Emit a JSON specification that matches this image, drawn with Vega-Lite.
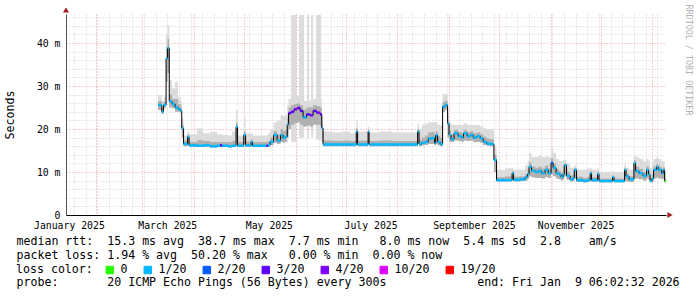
{
  "$schema": "https://vega.github.io/schema/vega-lite/v6.json",
  "width": 600,
  "height": 201,
  "autosize": "none",
  "padding": {"left": 66, "top": 14, "right": 31, "bottom": 82},
  "background": "#ffffff",
  "config": {"view": {"stroke": null}, "font": "DejaVu Sans Mono"},
  "datasets": {
    "ping": [
      {"d":"2025-03-10T12:00Z","e":"2025-03-12T17:00Z","m":25.6,"lo":24.4,"hi":27.9,"h2":26.5,"l":"1/20"},
      {"d":"2025-03-12T17:00Z","e":"2025-03-13T19:00Z","m":24.0,"lo":23.5,"hi":26.5,"h2":25.0,"l":"1/20"},
      {"d":"2025-03-13T19:00Z","e":"2025-03-15T07:00Z","m":25.6,"lo":25.0,"hi":27.5,"h2":26.3,"l":"1/20"},
      {"d":"2025-03-15T07:00Z","e":"2025-03-16T05:00Z","m":36.4,"lo":31,"hi":42,"h2":39,"l":"1/20"},
      {"d":"2025-03-16T05:00Z","e":"2025-03-17T05:00Z","m":38.8,"lo":33,"hi":44.2,"h2":41,"l":"1/20"},
      {"d":"2025-03-17T05:00Z","e":"2025-03-18T22:00Z","m":26.4,"lo":25,"hi":31.4,"h2":28,"l":"1/20"},
      {"d":"2025-03-18T22:00Z","e":"2025-03-20T17:00Z","m":25.8,"lo":24.8,"hi":29.5,"h2":27,"l":"1/20"},
      {"d":"2025-03-20T17:00Z","e":"2025-03-22T12:00Z","m":25.0,"lo":24.0,"hi":31.0,"h2":27,"l":"1/20"},
      {"d":"2025-03-22T12:00Z","e":"2025-03-24T00:00Z","m":24.6,"lo":24.0,"hi":27.5,"h2":25.8,"l":"1/20"},
      {"d":"2025-03-24T00:00Z","e":"2025-03-24T17:00Z","m":24.2,"lo":23.6,"hi":26.5,"h2":25.2,"l":"1/20"},
      {"d":"2025-03-24T17:00Z","e":"2025-03-25T19:00Z","m":20.2,"lo":18,"hi":22.5,"h2":21,"l":"1/20"},
      {"d":"2025-03-25T19:00Z","e":"2025-03-28T05:00Z","m":16.5,"lo":16.0,"hi":18.5,"h2":17.3,"l":"1/20"},
      {"d":"2025-03-28T05:00Z","e":"2025-03-29T02:00Z","m":18.2,"lo":16.2,"hi":19.5,"h2":18.8,"l":"1/20"},
      {"d":"2025-03-29T02:00Z","e":"2025-04-02T22:00Z","m":16.2,"lo":15.8,"hi":18.8,"h2":17.0,"l":"1/20"},
      {"d":"2025-04-02T22:00Z","e":"2025-04-06T12:00Z","m":16.1,"lo":15.8,"hi":20.2,"h2":17.4,"l":"1/20"},
      {"d":"2025-04-06T12:00Z","e":"2025-04-10T17:00Z","m":16.2,"lo":15.8,"hi":19.0,"h2":17.2,"l":"1/20"},
      {"d":"2025-04-10T17:00Z","e":"2025-04-14T22:00Z","m":16.0,"lo":15.7,"hi":19.3,"h2":17.0,"l":"1/20"},
      {"d":"2025-04-14T22:00Z","e":"2025-04-16T17:00Z","m":16.1,"lo":15.8,"hi":18.8,"h2":17.0,"l":"1/20"},
      {"d":"2025-04-16T17:00Z","e":"2025-04-17T22:00Z","m":16.2,"lo":15.8,"hi":18.8,"h2":17.0,"l":"3/20"},
      {"d":"2025-04-17T22:00Z","e":"2025-04-21T12:00Z","m":16.1,"lo":15.8,"hi":18.6,"h2":17.0,"l":"1/20"},
      {"d":"2025-04-21T12:00Z","e":"2025-04-23T22:00Z","m":16.0,"lo":15.7,"hi":18.5,"h2":16.9,"l":"1/20"},
      {"d":"2025-04-23T22:00Z","e":"2025-04-26T07:00Z","m":16.1,"lo":15.8,"hi":19.4,"h2":17.2,"l":"1/20"},
      {"d":"2025-04-26T07:00Z","e":"2025-04-27T05:00Z","m":20.5,"lo":17,"hi":24.4,"h2":21.5,"l":"1/20"},
      {"d":"2025-04-27T05:00Z","e":"2025-04-30T22:00Z","m":16.1,"lo":15.8,"hi":18.5,"h2":17.0,"l":"1/20"},
      {"d":"2025-04-30T22:00Z","e":"2025-05-02T00:00Z","m":18.6,"lo":16.5,"hi":22.5,"h2":19.5,"l":"1/20"},
      {"d":"2025-05-02T00:00Z","e":"2025-05-05T07:00Z","m":16.2,"lo":15.8,"hi":19.0,"h2":17.1,"l":"1/20"},
      {"d":"2025-05-05T07:00Z","e":"2025-05-06T05:00Z","m":17.0,"lo":16.0,"hi":19.0,"h2":17.6,"l":"1/20"},
      {"d":"2025-05-06T05:00Z","e":"2025-05-10T17:00Z","m":16.1,"lo":15.8,"hi":18.5,"h2":17.0,"l":"1/20"},
      {"d":"2025-05-10T17:00Z","e":"2025-05-14T14:00Z","m":16.1,"lo":15.8,"hi":18.5,"h2":17.0,"l":"1/20"},
      {"d":"2025-05-14T14:00Z","e":"2025-05-15T12:00Z","m":16.1,"lo":15.8,"hi":18.5,"h2":17.0,"l":"3/20"},
      {"d":"2025-05-15T12:00Z","e":"2025-05-16T17:00Z","m":16.3,"lo":15.9,"hi":19.0,"h2":17.2,"l":"1/20"},
      {"d":"2025-05-16T17:00Z","e":"2025-05-18T19:00Z","m":17.0,"lo":16.2,"hi":20.0,"h2":18.0,"l":"1/20"},
      {"d":"2025-05-18T19:00Z","e":"2025-05-20T22:00Z","m":18.6,"lo":16.8,"hi":21.5,"h2":19.5,"l":"1/20"},
      {"d":"2025-05-20T22:00Z","e":"2025-05-23T00:00Z","m":17.3,"lo":16.5,"hi":22.0,"h2":18.8,"l":"1/20"},
      {"d":"2025-05-23T00:00Z","e":"2025-05-24T12:00Z","m":18.6,"lo":17.0,"hi":23.3,"h2":20.0,"l":"1/20"},
      {"d":"2025-05-24T12:00Z","e":"2025-05-25T17:00Z","m":17.9,"lo":16.8,"hi":23.0,"h2":19.5,"l":"1/20"},
      {"d":"2025-05-25T17:00Z","e":"2025-05-27T00:00Z","m":18.2,"lo":17.0,"hi":23.3,"h2":19.8,"l":"1/20"},
      {"d":"2025-05-27T00:00Z","e":"2025-05-27T19:00Z","m":21.0,"lo":18.0,"hi":25.5,"h2":22.5,"l":"1/20"},
      {"d":"2025-05-27T19:00Z","e":"2025-05-29T07:00Z","m":23.7,"lo":20.0,"hi":27.0,"h2":25.0,"l":"3/20"},
      {"d":"2025-05-29T07:00Z","e":"2025-05-31T02:00Z","m":24.0,"lo":21.0,"hi":27.5,"h2":25.5,"l":"3/20"},
      {"d":"2025-05-31T02:00Z","e":"2025-06-01T22:00Z","m":24.6,"lo":21.3,"hi":27.5,"h2":25.8,"l":"4/20"},
      {"d":"2025-06-01T22:00Z","e":"2025-06-03T17:00Z","m":24.9,"lo":21.5,"hi":27.7,"h2":26.0,"l":"3/20"},
      {"d":"2025-06-03T17:00Z","e":"2025-06-05T12:00Z","m":24.2,"lo":21.0,"hi":27.5,"h2":25.5,"l":"3/20"},
      {"d":"2025-06-05T12:00Z","e":"2025-06-07T14:00Z","m":22.7,"lo":20.5,"hi":26.5,"h2":24.5,"l":"1/20"},
      {"d":"2025-06-07T14:00Z","e":"2025-06-09T17:00Z","m":23.4,"lo":20.8,"hi":26.5,"h2":25.0,"l":"3/20"},
      {"d":"2025-06-09T17:00Z","e":"2025-06-11T12:00Z","m":23.2,"lo":20.5,"hi":26.8,"h2":25.0,"l":"4/20"},
      {"d":"2025-06-11T12:00Z","e":"2025-06-13T14:00Z","m":24.2,"lo":21.0,"hi":27.0,"h2":25.5,"l":"3/20"},
      {"d":"2025-06-13T14:00Z","e":"2025-06-15T17:00Z","m":23.8,"lo":21.0,"hi":27.2,"h2":25.3,"l":"4/20"},
      {"d":"2025-06-15T17:00Z","e":"2025-06-16T17:00Z","m":23.4,"lo":20.8,"hi":27.0,"h2":25.0,"l":"3/20"},
      {"d":"2025-06-16T17:00Z","e":"2025-06-17T12:00Z","m":20.2,"lo":17.0,"hi":23.0,"h2":21.0,"l":"1/20"},
      {"d":"2025-06-17T12:00Z","e":"2025-06-23T12:00Z","m":16.4,"lo":16.0,"hi":19.4,"h2":17.3,"l":"1/20"},
      {"d":"2025-06-23T12:00Z","e":"2025-06-29T12:00Z","m":16.4,"lo":16.0,"hi":19.2,"h2":17.2,"l":"1/20"},
      {"d":"2025-06-29T12:00Z","e":"2025-07-03T17:00Z","m":16.4,"lo":16.0,"hi":19.4,"h2":17.3,"l":"1/20"},
      {"d":"2025-07-03T17:00Z","e":"2025-07-07T10:00Z","m":16.4,"lo":16.0,"hi":19.0,"h2":17.2,"l":"1/20"},
      {"d":"2025-07-07T10:00Z","e":"2025-07-08T05:00Z","m":19.4,"lo":17.0,"hi":22.0,"h2":20.3,"l":"1/20"},
      {"d":"2025-07-08T05:00Z","e":"2025-07-14T12:00Z","m":16.4,"lo":16.0,"hi":19.4,"h2":17.3,"l":"1/20"},
      {"d":"2025-07-14T12:00Z","e":"2025-07-15T02:00Z","m":19.4,"lo":16.5,"hi":20.5,"h2":19.8,"l":"1/20"},
      {"d":"2025-07-15T02:00Z","e":"2025-07-21T17:00Z","m":16.4,"lo":16.0,"hi":19.2,"h2":17.2,"l":"1/20"},
      {"d":"2025-07-21T17:00Z","e":"2025-07-28T22:00Z","m":16.4,"lo":16.0,"hi":19.4,"h2":17.3,"l":"1/20"},
      {"d":"2025-07-28T22:00Z","e":"2025-08-05T17:00Z","m":16.4,"lo":16.0,"hi":19.2,"h2":17.2,"l":"1/20"},
      {"d":"2025-08-05T17:00Z","e":"2025-08-13T05:00Z","m":16.4,"lo":16.0,"hi":19.2,"h2":17.2,"l":"1/20"},
      {"d":"2025-08-13T05:00Z","e":"2025-08-14T02:00Z","m":19.4,"lo":16.5,"hi":21.3,"h2":20.0,"l":"1/20"},
      {"d":"2025-08-14T02:00Z","e":"2025-08-15T17:00Z","m":16.5,"lo":16.0,"hi":20.0,"h2":17.5,"l":"1/20"},
      {"d":"2025-08-15T17:00Z","e":"2025-08-17T17:00Z","m":16.8,"lo":16.2,"hi":21.0,"h2":18.0,"l":"1/20"},
      {"d":"2025-08-17T17:00Z","e":"2025-08-19T14:00Z","m":17.0,"lo":16.3,"hi":21.3,"h2":18.5,"l":"1/20"},
      {"d":"2025-08-19T14:00Z","e":"2025-08-21T17:00Z","m":17.8,"lo":16.5,"hi":21.6,"h2":19.2,"l":"1/20"},
      {"d":"2025-08-21T17:00Z","e":"2025-08-23T10:00Z","m":17.9,"lo":16.5,"hi":21.6,"h2":19.3,"l":"1/20"},
      {"d":"2025-08-23T10:00Z","e":"2025-08-24T02:00Z","m":16.7,"lo":16.2,"hi":21.6,"h2":18.5,"l":"1/20"},
      {"d":"2025-08-24T02:00Z","e":"2025-08-25T05:00Z","m":18.6,"lo":16.5,"hi":21.6,"h2":19.5,"l":"1/20"},
      {"d":"2025-08-25T05:00Z","e":"2025-08-26T17:00Z","m":17.0,"lo":16.2,"hi":21.0,"h2":18.3,"l":"1/20"},
      {"d":"2025-08-26T17:00Z","e":"2025-08-28T05:00Z","m":16.5,"lo":16.0,"hi":20.9,"h2":18.0,"l":"1/20"},
      {"d":"2025-08-28T05:00Z","e":"2025-08-29T17:00Z","m":25.2,"lo":24.0,"hi":28.1,"h2":26.3,"l":"1/20"},
      {"d":"2025-08-29T17:00Z","e":"2025-08-31T05:00Z","m":25.6,"lo":24.5,"hi":28.1,"h2":26.6,"l":"1/20"},
      {"d":"2025-08-31T05:00Z","e":"2025-09-01T02:00Z","m":21.3,"lo":18.0,"hi":24.0,"h2":22.0,"l":"1/20"},
      {"d":"2025-09-01T02:00Z","e":"2025-09-02T07:00Z","m":18.6,"lo":17.0,"hi":21.5,"h2":19.6,"l":"1/20"},
      {"d":"2025-09-02T07:00Z","e":"2025-09-04T02:00Z","m":17.6,"lo":17.0,"hi":21.0,"h2":18.8,"l":"1/20"},
      {"d":"2025-09-04T02:00Z","e":"2025-09-06T12:00Z","m":19.0,"lo":17.3,"hi":21.0,"h2":19.8,"l":"1/20"},
      {"d":"2025-09-06T12:00Z","e":"2025-09-08T14:00Z","m":18.3,"lo":17.2,"hi":21.0,"h2":19.3,"l":"1/20"},
      {"d":"2025-09-08T14:00Z","e":"2025-09-09T19:00Z","m":18.0,"lo":17.0,"hi":20.9,"h2":19.0,"l":"1/20"},
      {"d":"2025-09-09T19:00Z","e":"2025-09-11T22:00Z","m":19.0,"lo":17.3,"hi":21.3,"h2":19.8,"l":"1/20"},
      {"d":"2025-09-11T22:00Z","e":"2025-09-13T17:00Z","m":18.3,"lo":17.2,"hi":21.0,"h2":19.3,"l":"1/20"},
      {"d":"2025-09-13T17:00Z","e":"2025-09-15T14:00Z","m":18.6,"lo":17.3,"hi":21.0,"h2":19.5,"l":"1/20"},
      {"d":"2025-09-15T14:00Z","e":"2025-09-17T17:00Z","m":18.0,"lo":17.0,"hi":20.9,"h2":19.0,"l":"1/20"},
      {"d":"2025-09-17T17:00Z","e":"2025-09-19T17:00Z","m":18.3,"lo":17.0,"hi":21.0,"h2":19.2,"l":"1/20"},
      {"d":"2025-09-19T17:00Z","e":"2025-09-21T14:00Z","m":17.8,"lo":16.8,"hi":20.5,"h2":18.8,"l":"1/20"},
      {"d":"2025-09-21T14:00Z","e":"2025-09-23T17:00Z","m":17.0,"lo":16.3,"hi":20.2,"h2":18.2,"l":"1/20"},
      {"d":"2025-09-23T17:00Z","e":"2025-09-25T17:00Z","m":16.6,"lo":16.1,"hi":20.0,"h2":17.8,"l":"1/20"},
      {"d":"2025-09-25T17:00Z","e":"2025-09-28T00:00Z","m":16.5,"lo":16.0,"hi":20.0,"h2":17.6,"l":"1/20"},
      {"d":"2025-09-28T00:00Z","e":"2025-09-29T14:00Z","m":12.8,"lo":10.0,"hi":16.0,"h2":14.0,"l":"1/20"},
      {"d":"2025-09-29T14:00Z","e":"2025-10-04T17:00Z","m":8.1,"lo":7.8,"hi":10.5,"h2":8.8,"l":"1/20"},
      {"d":"2025-10-04T17:00Z","e":"2025-10-08T22:00Z","m":8.1,"lo":7.8,"hi":10.9,"h2":9.0,"l":"1/20"},
      {"d":"2025-10-08T22:00Z","e":"2025-10-09T19:00Z","m":9.7,"lo":8.0,"hi":11.0,"h2":10.2,"l":"1/20"},
      {"d":"2025-10-09T19:00Z","e":"2025-10-13T17:00Z","m":8.2,"lo":7.8,"hi":10.5,"h2":8.9,"l":"1/20"},
      {"d":"2025-10-13T17:00Z","e":"2025-10-16T17:00Z","m":8.3,"lo":7.9,"hi":10.5,"h2":9.0,"l":"1/20"},
      {"d":"2025-10-16T17:00Z","e":"2025-10-18T05:00Z","m":8.8,"lo":8.0,"hi":11.5,"h2":9.6,"l":"1/20"},
      {"d":"2025-10-18T05:00Z","e":"2025-10-19T02:00Z","m":9.5,"lo":8.5,"hi":12.5,"h2":10.5,"l":"1/20"},
      {"d":"2025-10-19T02:00Z","e":"2025-10-20T14:00Z","m":11.2,"lo":9.0,"hi":14.4,"h2":12.2,"l":"1/20"},
      {"d":"2025-10-20T14:00Z","e":"2025-10-22T17:00Z","m":10.3,"lo":8.8,"hi":13.5,"h2":11.3,"l":"1/20"},
      {"d":"2025-10-22T17:00Z","e":"2025-10-24T14:00Z","m":10.0,"lo":8.6,"hi":13.5,"h2":11.0,"l":"1/20"},
      {"d":"2025-10-24T14:00Z","e":"2025-10-26T17:00Z","m":10.2,"lo":8.6,"hi":13.8,"h2":11.2,"l":"1/20"},
      {"d":"2025-10-26T17:00Z","e":"2025-10-28T17:00Z","m":9.7,"lo":8.5,"hi":13.5,"h2":10.8,"l":"1/20"},
      {"d":"2025-10-28T17:00Z","e":"2025-10-30T14:00Z","m":10.5,"lo":8.8,"hi":13.6,"h2":11.5,"l":"1/20"},
      {"d":"2025-10-30T14:00Z","e":"2025-11-01T07:00Z","m":9.7,"lo":8.6,"hi":13.5,"h2":10.8,"l":"1/20"},
      {"d":"2025-11-01T07:00Z","e":"2025-11-02T12:00Z","m":12.1,"lo":9.5,"hi":15.6,"h2":13.2,"l":"2/20"},
      {"d":"2025-11-02T12:00Z","e":"2025-11-04T07:00Z","m":11.0,"lo":9.0,"hi":14.5,"h2":12.0,"l":"1/20"},
      {"d":"2025-11-04T07:00Z","e":"2025-11-06T02:00Z","m":9.7,"lo":8.5,"hi":13.0,"h2":10.7,"l":"1/20"},
      {"d":"2025-11-06T02:00Z","e":"2025-11-07T07:00Z","m":9.4,"lo":8.3,"hi":12.5,"h2":10.3,"l":"1/20"},
      {"d":"2025-11-07T07:00Z","e":"2025-11-08T12:00Z","m":8.8,"lo":8.0,"hi":12.5,"h2":9.8,"l":"1/20"},
      {"d":"2025-11-08T12:00Z","e":"2025-11-09T05:00Z","m":9.4,"lo":8.3,"hi":12.8,"h2":10.4,"l":"1/20"},
      {"d":"2025-11-09T05:00Z","e":"2025-11-10T14:00Z","m":11.6,"lo":9.0,"hi":12.8,"h2":12.0,"l":"1/20"},
      {"d":"2025-11-10T14:00Z","e":"2025-11-12T17:00Z","m":9.1,"lo":8.2,"hi":12.0,"h2":10.0,"l":"1/20"},
      {"d":"2025-11-12T17:00Z","e":"2025-11-14T12:00Z","m":8.3,"lo":7.8,"hi":11.0,"h2":9.2,"l":"1/20"},
      {"d":"2025-11-14T12:00Z","e":"2025-11-15T05:00Z","m":8.6,"lo":7.9,"hi":11.0,"h2":9.4,"l":"1/20"},
      {"d":"2025-11-15T05:00Z","e":"2025-11-16T14:00Z","m":10.5,"lo":8.5,"hi":11.5,"h2":10.8,"l":"1/20"},
      {"d":"2025-11-16T14:00Z","e":"2025-11-20T12:00Z","m":8.1,"lo":7.7,"hi":10.5,"h2":8.9,"l":"1/20"},
      {"d":"2025-11-20T12:00Z","e":"2025-11-22T22:00Z","m":7.9,"lo":7.6,"hi":10.5,"h2":8.6,"l":"1/20"},
      {"d":"2025-11-22T22:00Z","e":"2025-11-24T19:00Z","m":8.1,"lo":7.7,"hi":10.8,"h2":8.9,"l":"1/20"},
      {"d":"2025-11-24T19:00Z","e":"2025-11-25T14:00Z","m":9.7,"lo":8.0,"hi":11.0,"h2":10.2,"l":"1/20"},
      {"d":"2025-11-25T14:00Z","e":"2025-11-29T05:00Z","m":8.1,"lo":7.7,"hi":10.5,"h2":8.8,"l":"1/20"},
      {"d":"2025-11-29T05:00Z","e":"2025-11-30T02:00Z","m":9.5,"lo":8.0,"hi":10.8,"h2":10.0,"l":"1/20"},
      {"d":"2025-11-30T02:00Z","e":"2025-12-06T17:00Z","m":7.9,"lo":7.6,"hi":10.0,"h2":8.5,"l":"1/20"},
      {"d":"2025-12-06T17:00Z","e":"2025-12-08T05:00Z","m":7.9,"lo":7.6,"hi":9.8,"h2":8.5,"l":"1/20"},
      {"d":"2025-12-08T05:00Z","e":"2025-12-09T02:00Z","m":8.8,"lo":7.8,"hi":10.2,"h2":9.2,"l":"1/20"},
      {"d":"2025-12-09T02:00Z","e":"2025-12-15T10:00Z","m":7.9,"lo":7.6,"hi":10.0,"h2":8.5,"l":"1/20"},
      {"d":"2025-12-15T10:00Z","e":"2025-12-16T07:00Z","m":10.5,"lo":8.0,"hi":12.0,"h2":11.0,"l":"1/20"},
      {"d":"2025-12-16T07:00Z","e":"2025-12-18T02:00Z","m":9.0,"lo":7.8,"hi":11.0,"h2":9.6,"l":"1/20"},
      {"d":"2025-12-18T02:00Z","e":"2025-12-21T00:00Z","m":8.3,"lo":7.7,"hi":10.5,"h2":9.0,"l":"1/20"},
      {"d":"2025-12-21T00:00Z","e":"2025-12-22T00:00Z","m":12.1,"lo":8.5,"hi":14.0,"h2":12.8,"l":"1/20"},
      {"d":"2025-12-22T00:00Z","e":"2025-12-24T02:00Z","m":10.2,"lo":8.5,"hi":13.5,"h2":11.2,"l":"1/20"},
      {"d":"2025-12-24T02:00Z","e":"2025-12-26T12:00Z","m":9.7,"lo":8.3,"hi":13.0,"h2":10.7,"l":"1/20"},
      {"d":"2025-12-26T12:00Z","e":"2025-12-28T14:00Z","m":9.1,"lo":8.0,"hi":12.5,"h2":10.0,"l":"1/20"},
      {"d":"2025-12-28T14:00Z","e":"2025-12-29T19:00Z","m":10.5,"lo":8.5,"hi":13.0,"h2":11.3,"l":"1/20"},
      {"d":"2025-12-29T19:00Z","e":"2025-12-30T17:00Z","m":9.4,"lo":8.2,"hi":12.5,"h2":10.3,"l":"1/20"},
      {"d":"2025-12-30T17:00Z","e":"2025-12-31T22:00Z","m":7.9,"lo":7.6,"hi":11.0,"h2":8.6,"l":"1/20"},
      {"d":"2025-12-31T22:00Z","e":"2026-01-01T19:00Z","m":8.5,"lo":7.8,"hi":12.0,"h2":9.5,"l":"1/20"},
      {"d":"2026-01-01T19:00Z","e":"2026-01-03T14:00Z","m":10.5,"lo":8.5,"hi":13.0,"h2":11.3,"l":"1/20"},
      {"d":"2026-01-03T14:00Z","e":"2026-01-04T14:00Z","m":11.2,"lo":8.8,"hi":13.5,"h2":12.0,"l":"1/20"},
      {"d":"2026-01-04T14:00Z","e":"2026-01-06T14:00Z","m":10.5,"lo":8.5,"hi":13.0,"h2":11.3,"l":"1/20"},
      {"d":"2026-01-06T14:00Z","e":"2026-01-07T14:00Z","m":9.7,"lo":8.3,"hi":12.5,"h2":10.7,"l":"1/20"},
      {"d":"2026-01-07T14:00Z","e":"2026-01-08T10:00Z","m":10.5,"lo":8.5,"hi":12.5,"h2":11.2,"l":"1/20"},
      {"d":"2026-01-08T10:00Z","e":"2026-01-09T06:00Z","m":7.9,"lo":7.6,"hi":10.0,"h2":8.5,"l":"0"},
      {"d":"2026-01-09T06:00Z","e":"2026-01-09T06:00Z","m":8.0,"lo":7.6,"hi":10.0,"h2":8.5,"l":"0"}
    ],
    "cols": [
      {"s":"2025-05-29T07:00Z","e":"2025-06-01T07:00Z","lo":17.0,"hi":46.5},
      {"s":"2025-06-03T02:00Z","e":"2025-06-06T02:00Z","lo":18.0,"hi":46.5},
      {"s":"2025-06-07T22:00Z","e":"2025-06-09T02:00Z","lo":18.0,"hi":46.5},
      {"s":"2025-06-10T07:00Z","e":"2025-06-11T12:00Z","lo":18.0,"hi":46.5},
      {"s":"2025-06-13T07:00Z","e":"2025-06-16T07:00Z","lo":17.5,"hi":46.5}
    ]
  },
  "layer": [
    {
      "data": {"name": "cols"},
      "mark": {"type": "rect", "color": "#dcdcdc"},
      "encoding": {
        "x": {"field": "s", "type": "temporal",
          "scale": {"type": "utc", "domain": [{"year": 2025, "month": 1, "date": 14, "hours": 6, "minutes": 2, "seconds": 32, "utc": true}, {"year": 2026, "month": 1, "date": 9, "hours": 6, "minutes": 2, "seconds": 32, "utc": true}]},
          "axis": {"orient": "bottom", "grid": true, "gridColor": "#d0d0d0", "gridDash": [1, 2], "tickCount": {"interval": "week", "step": 1}, "labels": false, "ticks": false, "domain": false,
            "title": "probe:\u00a0\u00a0\u00a0\u00a0\u00a0\u00a0\u00a020 ICMP Echo Pings (56 Bytes) every 300s\u00a0\u00a0\u00a0\u00a0\u00a0\u00a0\u00a0\u00a0\u00a0\u00a0\u00a0\u00a0\u00a0end: Fri Jan\u00a0\u00a09 06:02:32 2026",
            "titleFont": "DejaVu Sans Mono", "titleFontSize": 11.6, "titleFontWeight": "normal", "titleColor": "#000000",
            "titleAlign": "left", "titleAnchor": "start", "titleX": -50, "titleY": 70.7, "titleBaseline": "alphabetic", "titleAngle": 0}},
        "x2": {"field": "e"},
        "y": {"field": "lo", "type": "quantitative",
          "scale": {"domain": [0, 46.75], "nice": false, "zero": false},
          "axis": {"orient": "left", "values": [0,2,4,6,8,10,12,14,16,18,20,22,24,26,28,30,32,34,36,38,40,42,44,46],
            "grid": true,
            "gridColor": {"condition": {"test": "datum.value % 10 === 0", "value": "#eaa0a0"}, "value": "#d0d0d0"},
            "gridDash": [1, 2],
            "labelExpr": "datum.value === 0 ? '0' : (datum.value % 10 === 0 ? datum.value + ' m' : '')",
            "labelFont": "DejaVu Sans Mono", "labelFontSize": 9.8, "labelColor": "#000000", "labelPadding": 6,
            "labelOverlap": false, "labelFlush": false, "ticks": false, "domainColor": "#555555",
            "title": "Seconds", "titleFont": "DejaVu Sans Mono", "titleFontSize": 11.6, "titleFontWeight": "normal",
            "titleColor": "#000000", "titleX": -56, "titleY": 100.5, "titleAngle": -90, "titleAlign": "center", "titleBaseline": "middle"}},
        "y2": {"field": "hi"}
      }
    },
    {
      "data": {"name": "ping"},
      "mark": {"type": "area", "interpolate": "step-after", "color": "#dcdcdc"},
      "encoding": {
        "x": {"field": "d", "type": "temporal", "scale": {"type": "utc"},
          "axis": {"orient": "bottom", "grid": true, "gridColor": "#eaa0a0", "gridDash": [1, 2], "tickCount": {"interval": "month", "step": 1}, "labels": false, "ticks": false, "domain": false, "title": null}},
        "y": {"field": "lo", "type": "quantitative",
          "axis": {"orient": "right", "labels": false, "ticks": false, "domain": false, "grid": false,
            "title": "RRDTOOL / TOBI OETIKER", "titleAngle": 90, "titleX": 22, "titleY": -10, "titleAlign": "left", "titleBaseline": "middle",
            "titleFont": "DejaVu Sans Mono", "titleFontSize": 8.4, "titleFontWeight": "normal", "titleColor": "#b0b0b0"}},
        "y2": {"field": "hi"}
      }
    },
    {
      "data": {"name": "ping"},
      "mark": {"type": "area", "interpolate": "step-after", "color": "#b0b0b0"},
      "encoding": {
        "x": {"field": "d", "type": "temporal", "scale": {"type": "utc"},
          "axis": {"orient": "bottom", "grid": false, "ticks": false, "domain": true, "domainColor": "#000000",
            "values": [{"year": 2025, "month": 1, "date": 16, "utc": true}, {"year": 2025, "month": 3, "date": 16, "utc": true}, {"year": 2025, "month": 5, "date": 16, "utc": true}, {"year": 2025, "month": 7, "date": 16, "utc": true}, {"year": 2025, "month": 9, "date": 16, "utc": true}, {"year": 2025, "month": 11, "date": 16, "utc": true}],
            "labelExpr": "utcFormat(datum.value, '%B %Y')",
            "labelFont": "DejaVu Sans Mono", "labelFontSize": 9.8, "labelColor": "#000000", "labelPadding": 5, "labelFlush": false, "labelOverlap": false,
            "title": [
              "median rtt:\u00a0\u00a015.3 ms avg\u00a0\u00a038.7 ms max\u00a0\u00a07.7 ms min\u00a0\u00a0\u00a08.0 ms now\u00a0\u00a05.4 ms sd\u00a0\u00a02.8\u00a0\u00a0\u00a0\u00a0am/s",
              "packet loss: 1.94 % avg\u00a0\u00a050.20 % max\u00a0\u00a0\u00a00.00 % min\u00a0\u00a00.00 % now"
            ],
            "titleFont": "DejaVu Sans Mono", "titleFontSize": 11.6, "titleFontWeight": "normal", "titleColor": "#000000",
            "titleAlign": "left", "titleAnchor": "start", "titleX": -50, "titleY": 29, "titleBaseline": "alphabetic", "titleLineHeight": 14, "titleAngle": 0}},
        "y": {"field": "lo", "type": "quantitative", "axis": null},
        "y2": {"field": "h2"}
      }
    },
    {
      "data": {"name": "ping"},
      "mark": {"type": "line", "interpolate": "step-after", "color": "#000000", "strokeWidth": 1},
      "encoding": {
        "x": {"field": "d", "type": "temporal", "scale": {"type": "utc"}, "axis": null},
        "y": {"field": "m", "type": "quantitative", "axis": null}
      }
    },
    {
      "data": {"name": "ping"},
      "mark": {"type": "rule", "strokeWidth": 2.5},
      "encoding": {
        "x": {"field": "d", "type": "temporal", "scale": {"type": "utc"}, "axis": null},
        "x2": {"field": "e"},
        "y": {"field": "m", "type": "quantitative", "axis": null},
        "color": {"field": "l", "type": "nominal",
          "scale": {"domain": ["0", "1/20", "2/20", "3/20", "4/20", "10/20", "19/20"], "range": ["#26ff00", "#00b8ff", "#0059ff", "#5e00ff", "#7e00ff", "#dd00ff", "#ff0000"]},
          "legend": {"orient": "none", "legendX": -50, "legendY": 250, "direction": "horizontal",
            "title": "loss color:", "titleOrient": "left", "titleFont": "DejaVu Sans Mono", "titleFontSize": 11.6, "titleFontWeight": "normal", "titleColor": "#000000", "titlePadding": 11, "titleBaseline": "middle",
            "labelFont": "DejaVu Sans Mono", "labelFontSize": 11.6, "labelColor": "#000000", "labelOffset": 5,
            "symbolType": "square", "symbolSize": 56, "symbolStrokeWidth": 1, "symbolStrokeColor": "#000000", "columnPadding": 14, "padding": 0,
            "encode": {"symbols": {"update": {"fill": {"scale": "color", "field": "value"}, "stroke": {"value": "#000000"}, "strokeWidth": {"value": 1}, "opacity": {"value": 1}, "fillOpacity": {"value": 1}, "strokeOpacity": {"value": 1}}}}}}
      }
    },
    {
      "data": {"values": [{"t": "2026-01-09T06:02:32Z", "v": 0}]},
      "mark": {"type": "point", "shape": "triangle-right", "filled": true, "color": "#9c1e1e", "size": 36, "opacity": 1, "xOffset": 4, "clip": false},
      "encoding": {
        "x": {"field": "t", "type": "temporal", "scale": {"type": "utc"}, "axis": null},
        "y": {"field": "v", "type": "quantitative", "axis": null}
      }
    },
    {
      "data": {"values": [{"t": "2025-01-14T06:02:32Z", "v": 46.75}]},
      "mark": {"type": "point", "shape": "triangle-up", "filled": true, "color": "#9c1e1e", "size": 36, "opacity": 1, "yOffset": -4, "clip": false},
      "encoding": {
        "x": {"field": "t", "type": "temporal", "scale": {"type": "utc"}, "axis": null},
        "y": {"field": "v", "type": "quantitative", "axis": null}
      }
    }
  ],
  "resolve": {"axis": {"x": "independent", "y": "independent"}}
}
